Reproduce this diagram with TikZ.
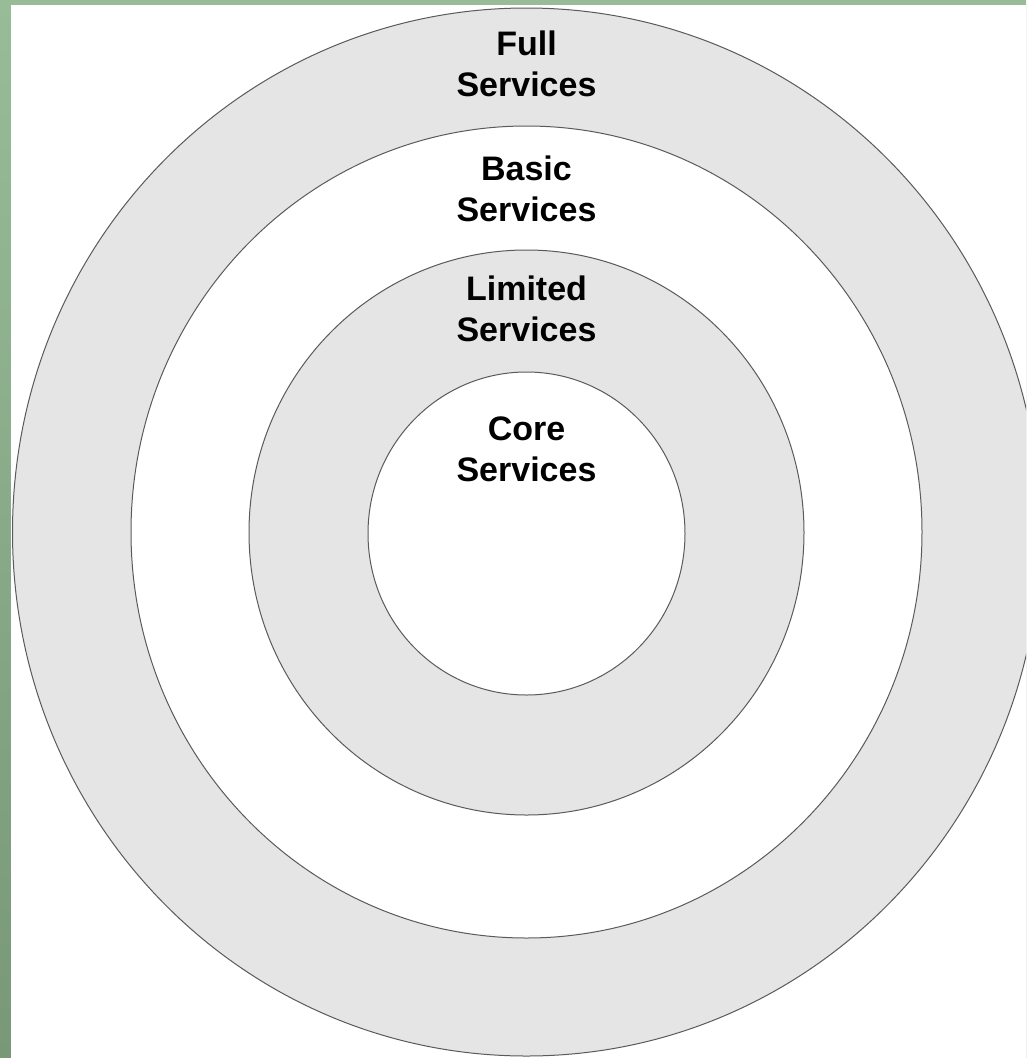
\documentclass[tikz,border=0pt]{standalone}
\usepackage{fontspec}
\setmainfont{Liberation Sans}
\usepackage{tikz}
\usetikzlibrary{positioning}

\definecolor{ringgray}{HTML}{E5E5E5}
\definecolor{ringline}{HTML}{5A5A5A}
\definecolor{bgtop}{HTML}{98BC98}
\definecolor{bgbottom}{HTML}{789878}

\begin{document}
\begin{tikzpicture}[
            x=1pt, y=-1pt,
            ring/.style={draw=ringline, line width=1pt},
            label/.style={align=center, inner sep=0pt, font=\bfseries\fontsize{34}{41}\selectfont}
        ]

        \useasboundingbox (0,0) rectangle (1026,1058);
        % backdrop
        \shade[top color=bgtop, bottom color=bgbottom] (0,0) rectangle (1026,1058);
        \fill[white] (11,5) rectangle (1026,1058);

        \begin{scope}
            \clip (11,5) rectangle (1026,1058);
            \draw[ring, fill=ringgray] (526.5,532) ellipse (514pt and 524pt);
            \draw[ring, fill=white] (526.5,532) ellipse (395.5pt and 406pt);
            \draw[ring, fill=ringgray] (526.5,532.5) ellipse (277.5pt and 282.5pt);
            \draw[ring, fill=white] (526.5,533.5) ellipse (158.5pt and 161.5pt);
        \end{scope}

        \node[label] (full) at (526.5,64) {Full\\Services};
        \node[label] (basic) at (526.5,188.5) {Basic\\Services};
        \node[label] (limited) at (526.5,308.5) {Limited\\Services};
        \node[label] (core) at (526.5,449.5) {Core\\Services};

    \end{tikzpicture}
\end{document}
